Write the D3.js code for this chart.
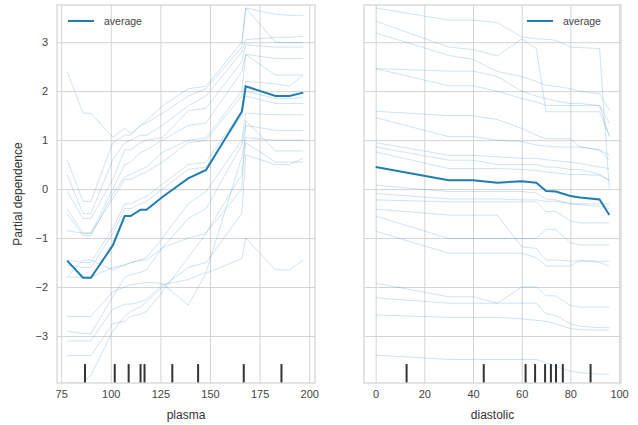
<!DOCTYPE html>
<html>
<head>
<meta charset="utf-8">
<script src="https://cdn.jsdelivr.net/npm/d3@7"></script>
<style>
  body { margin: 0; background: #fff; }
  text { font-family: "Liberation Sans", Arial, sans-serif; }
  .tick text { fill: #444; font-size: 11px; }
  .axisText { fill: #333; font-size: 12px; }
  .legendText { fill: #444; font-size: 10.5px; }
</style>
</head>
<body>
<div id="plot"></div>
<script>
// Grid of feature values (x) for each panel
var plasmaGrid = [78, 86, 90, 101, 107, 110, 115, 118, 126, 139, 148, 166, 168, 183, 190, 197];
var diastolicGrid = [0, 30, 40, 50, 60, 66, 70, 74, 80, 84, 92, 96];

// Average partial dependence
var plasmaAvg = [-1.46, -1.81, -1.81, -1.15, -0.55, -0.55, -0.42, -0.42, -0.16, 0.22, 0.39, 1.58, 2.10, 1.90, 1.90, 1.97];
var diastolicAvg = [0.45, 0.18, 0.18, 0.13, 0.16, 0.13, -0.04, -0.05, -0.14, -0.17, -0.21, -0.53];

// Individual (ICE) curves
var plasmaIce = [
  [2.40, 1.55, 1.55, 1.06, 1.24, 1.14, 1.30, 1.40, 1.70, 2.05, 2.10, 3.00, 3.70, 3.57, 3.55, 3.55],
  [0.60, -0.25, -0.25, 0.95, 1.10, 1.10, 1.30, 1.35, 1.55, 1.90, 2.05, 2.90, 3.70, 3.00, 2.99, 2.99],
  [0.30, -0.50, -0.50, 0.60, 0.95, 1.00, 1.10, 1.10, 1.30, 1.70, 1.90, 2.80, 3.05, 3.10, 3.10, 3.12],
  [-0.05, -0.60, -0.60, 0.20, 0.80, 0.80, 0.95, 1.00, 1.05, 1.60, 1.65, 2.60, 2.95, 2.90, 2.90, 2.90],
  [-0.40, -0.90, -0.90, 0.00, 0.50, 0.55, 0.75, 0.80, 1.00, 1.30, 1.35, 2.40, 2.75, 2.67, 2.67, 2.67],
  [-0.50, -0.95, -0.95, -0.10, 0.25, 0.30, 0.40, 0.45, 0.75, 1.00, 1.05, 2.00, 2.75, 2.33, 2.33, 2.33],
  [-0.85, -0.90, -0.90, -0.20, 0.20, 0.20, 0.30, 0.35, 0.55, 0.95, 1.00, 1.90, 2.20, 2.15, 2.10, 2.33],
  [-1.45, -1.50, -1.50, -0.80, -0.30, -0.30, -0.20, -0.15, 0.10, 0.50, 0.55, 1.60, 2.00, 1.85, 1.85, 1.88],
  [-1.55, -1.60, -1.60, -0.90, -0.40, -0.40, -0.30, -0.25, 0.00, 0.40, 0.45, 1.50, 1.90, 1.75, 1.75, 1.75],
  [-1.80, -1.45, -1.45, -1.65, -1.55, -1.50, -1.45, -1.45, -1.20, -1.00, -0.90, 0.00, 1.40, 0.78, 0.78, 0.78],
  [-1.80, -1.80, -1.80, -1.60, -1.55, -1.50, -1.45, -1.40, -1.00, -0.30, -0.05, 1.00, 1.55, 1.52, 1.52, 1.52],
  [-2.60, -2.60, -2.60, -2.10, -2.00, -1.95, -1.93, -1.90, -1.93, -2.37, -1.72, -1.42, -1.00, -1.65, -1.65, -1.45],
  [-3.95, -3.95, -3.80, -2.90, -2.60, -2.50, -2.40, -2.30, -2.00, -1.60, -1.50, -0.50, 0.70, 0.50, 0.50, 0.63],
  [-3.40, -3.40, -3.40, -2.75, -2.70, -2.60, -2.55, -2.50, -2.10, -1.40, -0.90, 0.30, 0.95, 0.55, 0.55, 0.55],
  [-3.10, -3.10, -3.10, -2.45, -2.35, -2.35, -2.30, -2.25, -1.95, -1.85, -1.70, 0.65, 1.05, 1.00, 1.00, 1.00],
  [-2.90, -2.95, -2.95, -2.20, -1.80, -1.75, -1.70, -1.65, -1.20, -0.60, -0.40, 0.90, 1.30, 1.20, 1.20, 1.20]
];
var diastolicIce = [
  [3.70, 3.45, 3.45, 3.40, 3.11, 3.07, 3.06, 3.04, 2.90, 2.89, 2.87, 0.01],
  [3.43, 2.90, 2.85, 2.72, 3.07, 2.87, 1.58, 1.58, 1.58, 1.58, 1.58, 1.10],
  [3.19, 2.73, 2.65, 2.40, 2.30, 2.20, 2.12, 2.10, 2.05, 2.00, 1.95, 1.61],
  [2.46, 2.11, 2.11, 2.00, 1.85, 1.78, 1.71, 1.71, 1.71, 1.71, 1.71, 1.35],
  [2.46, 2.41, 2.41, 2.30, 2.00, 1.90, 1.85, 1.80, 1.75, 1.75, 1.70, 1.07],
  [1.59, 1.50, 1.50, 1.42, 1.24, 1.10, 1.03, 1.03, 1.03, 0.86, 0.80, 0.69],
  [1.46, 1.07, 1.07, 1.00, 0.97, 0.90, 0.88, 0.86, 0.86, 0.86, 0.80, 0.59],
  [0.95, 0.69, 0.69, 0.66, 0.63, 0.63, 0.60, 0.58, 0.55, 0.52, 0.45, 0.42],
  [0.86, 0.59, 0.59, 0.50, 0.50, 0.50, 0.45, 0.45, 0.40, 0.40, 0.30, 0.18],
  [0.76, 0.42, 0.42, 0.42, 0.40, 0.38, 0.35, 0.33, 0.30, 0.30, 0.28, 0.18],
  [0.08, -0.05, -0.05, -0.05, -0.05, -0.08, -0.20, -0.22, -0.30, -0.32, -0.35, -0.40],
  [-0.09, -0.20, -0.20, -0.20, -0.22, -0.22, -0.25, -0.25, -0.30, -0.30, -0.30, -0.30],
  [-0.22, -0.26, -0.26, -0.26, -0.26, -0.26, -0.46, -0.46, -0.65, -0.69, -0.69, -0.69],
  [-0.41, -0.53, -0.53, -0.53, -1.18, -1.21, -1.45, -1.45, -1.47, -1.47, -1.47, -1.47],
  [-0.55, -1.01, -1.01, -1.01, -1.01, -1.01, -0.82, -0.82, -1.10, -1.14, -1.14, -1.14],
  [-0.86, -1.31, -1.31, -1.31, -1.31, -1.40, -1.57, -1.57, -1.57, -1.45, -1.50, -1.57],
  [-1.92, -2.20, -2.20, -2.33, -2.00, -2.00, -2.18, -2.18, -2.38, -2.41, -2.41, -2.41],
  [-2.22, -2.33, -2.33, -2.33, -2.33, -2.33, -2.55, -2.58, -2.75, -2.80, -2.83, -2.83],
  [-2.57, -2.62, -2.62, -2.62, -2.65, -2.68, -2.70, -2.75, -2.85, -2.87, -2.88, -2.88],
  [-3.39, -3.48, -3.48, -3.48, -3.48, -3.48, -3.55, -3.62, -3.72, -3.75, -3.78, -3.78]
];

// Deciles shown as rug marks
var plasmaDeciles = [87, 102, 109, 115, 117, 131, 144, 167, 186];
var diastolicDeciles = [12.7, 44.4, 61.6, 65.5, 69.6, 72.0, 74.1, 76.9, 88.3];

// Tick values
var plasmaTicks = [75, 100, 125, 150, 175, 200];
var diastolicTicks = [0, 20, 40, 60, 80, 100];
var yTicks = [-3, -2, -1, 0, 1, 2, 3];

var svgWidth = 638;
var svgHeight = 425;
var lineColor = "#1f7db2";
var gridColor = "#d4d4d4";

var svg = d3.select("#plot")
  .append("svg")
  .attr("width", svgWidth)
  .attr("height", svgHeight);

// Shared y scale (both panels use the same limits)
var plotTop = 5, plotBottom = 383;
var yScale = d3.scaleLinear()
  .domain([-3.96, 3.76])
  .range([plotBottom, plotTop]);

function fmt(d) {
  return d < 0 ? "\u2212" + Math.abs(d) : String(d);
}

function drawPanel(p) {
  var xScale = d3.scaleLinear().domain(p.domain).range([p.left, p.right]);
  var w = p.right - p.left;
  var h = plotBottom - plotTop;
  var g = svg.append("g");

  // vertical grid + x tick labels
  g.append("g")
    .attr("transform", `translate(0, ${plotBottom})`)
    .call(d3.axisBottom(xScale).tickValues(p.ticks).tickSize(-h).tickPadding(7).tickFormat(fmt))
    .call(a => a.select(".domain").remove())
    .call(a => a.selectAll("line").attr("stroke", gridColor).attr("stroke-width", 1));

  // horizontal grid + y tick labels
  g.append("g")
    .attr("transform", `translate(${p.left}, 0)`)
    .call(d3.axisLeft(yScale).tickValues(yTicks).tickSize(-w).tickPadding(9)
      .tickFormat(p.showY ? fmt : ""))
    .call(a => a.select(".domain").remove())
    .call(a => a.selectAll("line").attr("stroke", gridColor).attr("stroke-width", 1));

  var line = d3.line()
    .x((d, i) => xScale(p.grid[i]))
    .y(d => yScale(d));

  // individual curves
  g.append("g").selectAll("path")
    .data(p.ice)
    .enter()
    .append("path")
    .attr("d", line)
    .attr("fill", "none")
    .attr("stroke", lineColor)
    .attr("stroke-opacity", 0.24)
    .attr("stroke-width", 0.9);

  // average
  g.append("path")
    .attr("d", line(p.avg))
    .attr("fill", "none")
    .attr("stroke", lineColor)
    .attr("stroke-width", 2);

  // deciles
  g.append("g").selectAll("line")
    .data(p.deciles)
    .enter()
    .append("line")
    .attr("x1", d => xScale(d))
    .attr("x2", d => xScale(d))
    .attr("y1", plotBottom)
    .attr("y2", plotBottom - h * 0.05)
    .attr("stroke", "#333")
    .attr("stroke-width", 2);

  // frame
  g.append("rect")
    .attr("x", p.left)
    .attr("y", plotTop)
    .attr("width", w)
    .attr("height", h)
    .attr("fill", "none")
    .attr("stroke", gridColor)
    .attr("stroke-width", 1.25);

  // x label
  g.append("text")
    .attr("class", "axisText")
    .attr("x", (p.left + p.right) / 2)
    .attr("y", 419)
    .attr("text-anchor", "middle")
    .text(p.label);

  // legend
  var lg = g.append("g").attr("transform", `translate(${p.legendX}, 21)`);
  lg.append("line")
    .attr("x1", 0).attr("x2", 26)
    .attr("stroke", lineColor)
    .attr("stroke-width", 2);
  lg.append("text")
    .attr("class", "legendText")
    .attr("x", 36)
    .attr("y", 4)
    .text("average");
}

drawPanel({
  left: 57, right: 315,
  domain: [72.9, 202.9],
  grid: plasmaGrid, avg: plasmaAvg, ice: plasmaIce,
  deciles: plasmaDeciles, ticks: plasmaTicks,
  label: "plasma", showY: true, legendX: 68
});

drawPanel({
  left: 364, right: 621,
  domain: [-4.8, 100.8],
  grid: diastolicGrid, avg: diastolicAvg, ice: diastolicIce,
  deciles: diastolicDeciles, ticks: diastolicTicks,
  label: "diastolic", showY: false, legendX: 527
});

// y label
svg.append("text")
  .attr("class", "axisText")
  .attr("transform", `translate(22, ${(plotTop + plotBottom) / 2}) rotate(-90)`)
  .attr("text-anchor", "middle")
  .text("Partial dependence");
</script>
</body>
</html>
